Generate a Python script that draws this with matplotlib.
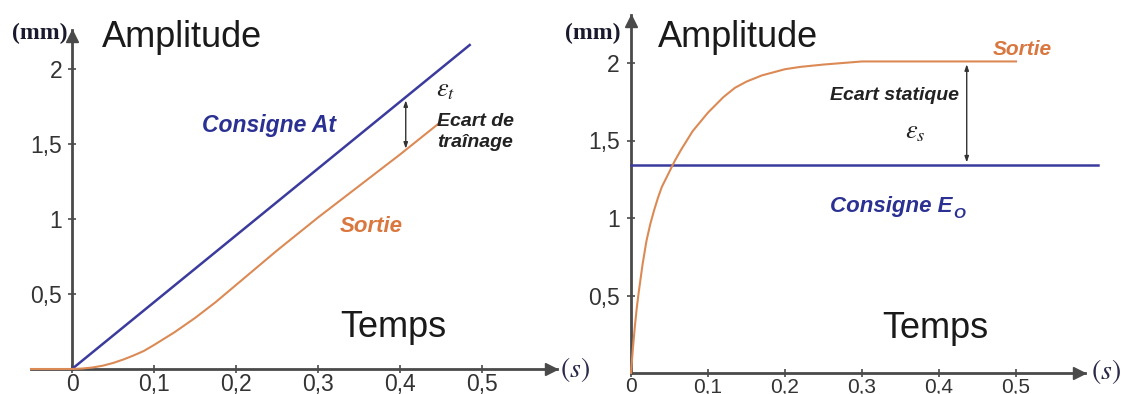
import matplotlib.pyplot as plt

plt.rcParams['font.family'] = 'Liberation Sans'
plt.rcParams['mathtext.fontset'] = 'stix'

# left chart: ramp input (consigne At) and the lagging output
ramp_t = [0, 0.485]
ramp_y = [0, 2.16]
ramp_out_t = [-0.05, 0, 0.0125, 0.025, 0.0375, 0.05, 0.0625, 0.075, 0.0875, 0.1,
              0.125, 0.15, 0.175, 0.2, 0.25, 0.3, 0.35, 0.4, 0.448]
ramp_out_y = [0, 0, 0.003, 0.01, 0.022, 0.04, 0.063, 0.09, 0.12, 0.16,
              0.245, 0.34, 0.445, 0.56, 0.79, 1.01, 1.22, 1.43, 1.64]
ramp_gap_t = 0.407
ramp_gap_y = [1.45, 1.81]

# right chart: step input (consigne Eo) and the output
step_t = [0, 0.606]
step_y = [1.34, 1.34]
step_out_t = [0, 0.0025, 0.005, 0.0075, 0.01, 0.015, 0.02, 0.025, 0.03, 0.035, 0.04,
              0.045, 0.05, 0.057, 0.065, 0.07, 0.08, 0.09, 0.1, 0.11, 0.12, 0.135,
              0.15, 0.17, 0.2, 0.22, 0.25, 0.3, 0.4, 0.5]
step_out_y = [0, 0.16, 0.30, 0.42, 0.52, 0.70, 0.85, 0.96, 1.05, 1.13, 1.20,
              1.25, 1.30, 1.37, 1.44, 1.48, 1.56, 1.62, 1.68, 1.73, 1.78, 1.84,
              1.88, 1.92, 1.96, 1.975, 1.99, 2.01, 2.01, 2.01]
step_gap_t = 0.436
step_gap_y = [1.34, 2.01]

x_ticks = [0, 0.1, 0.2, 0.3, 0.4, 0.5]
x_labels = ['0', '0,1', '0,2', '0,3', '0,4', '0,5']
y_ticks = [0.5, 1, 1.5, 2]
y_labels = ['0,5', '1', '1,5', '2']

blue = '#3b3b9e'
orange = '#dc8a55'
axc = '#4a4a4a'

W, H = 1128, 394
fig = plt.figure(figsize=(W / 100, H / 100), dpi=100)


def px(x, y):
    return x / W, 1 - y / H


def setup(ax, xlim, ylim, xstart, xtip, ytip, xpad, ypad, xsize):
    ax.set_xlim(*xlim)
    ax.set_ylim(*ylim)
    ax.patch.set_alpha(0)
    for s in ['top', 'right']:
        ax.spines[s].set_visible(False)
    ax.spines['left'].set_position(('data', 0))
    ax.spines['bottom'].set_position(('data', 0))
    ax.spines['left'].set_bounds(0, ytip)
    ax.spines['bottom'].set_bounds(xstart, xtip)
    for s in ['left', 'bottom']:
        ax.spines[s].set_color(axc)
        ax.spines[s].set_linewidth(2)
    ax.set_xticks(x_ticks, x_labels)
    ax.set_yticks(y_ticks, y_labels)
    ax.tick_params(direction='inout', length=6, width=1.2, color=axc,
                   labelsize=16.5, labelcolor='#333333')
    ax.tick_params(axis='x', pad=xpad, labelsize=xsize)
    ax.tick_params(axis='y', pad=ypad)
    # arrow heads at the end of both axes
    xr = xlim[1] - xlim[0]
    yr = ylim[1] - ylim[0]
    ax.plot([xtip - 0.011 * xr], [0], marker='>', ms=9, color=axc, clip_on=False, zorder=4)
    ax.plot([0], [ytip - 0.015 * yr], marker='^', ms=8, color=axc, clip_on=False, zorder=4)


axL = fig.add_axes([0, 0, 560 / W, 1])
setup(axL, (-72 / 820, (560 - 72) / 820), ((369 - 394) / 150, 369 / 150),
      -0.05, 0.5915, 2.26, 0, 4, 16.5)
axL.plot(ramp_t, ramp_y, color=blue, lw=1.8, zorder=3)
axL.plot(ramp_out_t, ramp_out_y, color=orange, lw=1.5, zorder=3)
axL.annotate('', xy=(ramp_gap_t, ramp_gap_y[1]), xytext=(ramp_gap_t, ramp_gap_y[0]),
             arrowprops=dict(arrowstyle='<|-|>,head_length=0.35,head_width=0.12',
                             color='#333333', lw=1))

axR = fig.add_axes([560 / W, 0, 568 / W, 1])
setup(axR, ((560 - 631) / 770, (1128 - 631) / 770), ((373 - 394) / 155, 373 / 155),
      0, 0.59, 2.31, 0, 5, 15)
axR.plot(step_t, step_y, color=blue, lw=1.8, zorder=3)
axR.plot(step_out_t, step_out_y, color=orange, lw=1.5, zorder=3)
axR.annotate('', xy=(step_gap_t, step_gap_y[1]), xytext=(step_gap_t, step_gap_y[0]),
             arrowprops=dict(arrowstyle='<|-|>,head_length=0.35,head_width=0.12',
                             color='#333333', lw=1))

# texts of the left chart
fig.text(*px(40, 33), '(mm)', family='Liberation Serif', fontsize=17, weight='bold',
         ha='center', va='center', color='#1a1a2e')
fig.text(*px(102, 47), 'Amplitude', fontsize=26, color='#1a1a1a', va='baseline')
fig.text(*px(340, 337), 'Temps', fontsize=26, color='#1a1a1a', va='baseline')
fig.text(*px(202, 132), 'Consigne At', fontsize=16.5, weight='bold', style='italic',
         color='#2b3192', va='baseline')
fig.text(*px(340, 232), 'Sortie', fontsize=16, weight='bold', style='italic',
         color='#d9773f', va='baseline')
fig.text(*px(446, 90), r'$\varepsilon_t$', fontsize=19, ha='center', va='center',
         color='#222222')
fig.text(*px(437, 113), 'Ecart de\ntraînage', fontsize=14, weight='bold',
         style='italic', color='#222222', va='top', linespacing=1.3)
fig.text(*px(575, 370), r'$(s)$', fontsize=20, ha='center', va='center',
         color='#2a2a4a')

# texts of the right chart
fig.text(*px(593, 33), '(mm)', family='Liberation Serif', fontsize=17, weight='bold',
         ha='center', va='center', color='#1a1a2e')
fig.text(*px(658, 47), 'Amplitude', fontsize=26, color='#1a1a1a', va='baseline')
fig.text(*px(882, 338), 'Temps', fontsize=26, color='#1a1a1a', va='baseline')
fig.text(*px(993, 55), 'Sortie', fontsize=15, weight='bold', style='italic',
         color='#d9773f', va='baseline')
fig.text(*px(959, 100), 'Ecart statique', fontsize=14, weight='bold', style='italic',
         color='#222222', va='baseline', ha='right')
fig.text(*px(915, 132), r'$\varepsilon_s$', fontsize=19, ha='center', va='center',
         color='#222222')
fig.text(*px(830, 212), 'Consigne E', fontsize=16, weight='bold', style='italic',
         color='#2b3192', va='baseline')
fig.text(*px(953, 218), 'O', fontsize=11, weight='bold', style='italic',
         color='#2b3192', va='baseline')
fig.text(*px(1106, 372), r'$(s)$', fontsize=20, ha='center', va='center',
         color='#2a2a4a')

fig.savefig('out.png', dpi=100)
